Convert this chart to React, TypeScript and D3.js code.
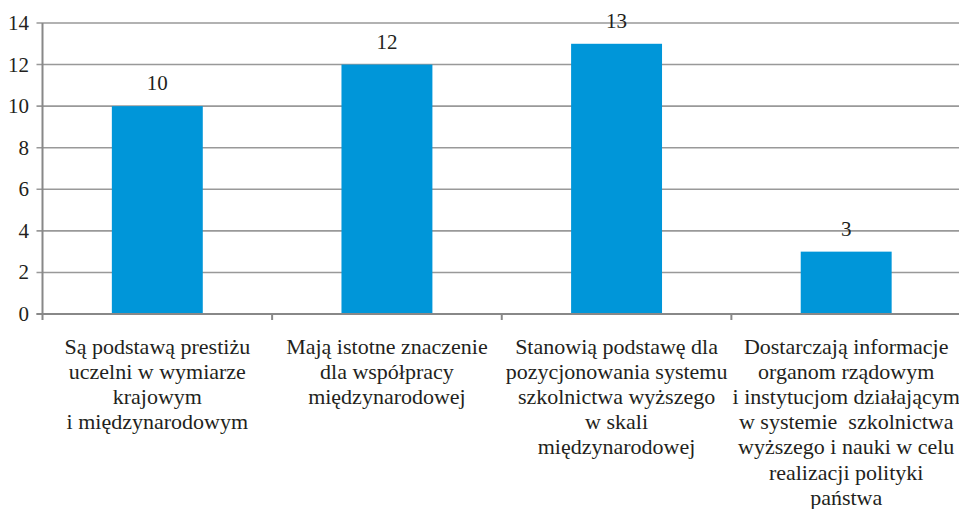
import * as d3 from 'd3';

const categories = [
  ['Są podstawą prestiżu', 'uczelni w wymiarze', 'krajowym', 'i międzynarodowym'],
  ['Mają istotne znaczenie', 'dla współpracy', 'międzynarodowej'],
  ['Stanowią podstawę dla', 'pozycjonowania systemu', 'szkolnictwa wyższego', 'w skali', 'międzynarodowej'],
  ['Dostarczają informacje', 'organom rządowym', 'i instytucjom działającym', 'w systemie  szkolnictwa', 'wyższego i nauki w celu', 'realizacji polityki', 'państwa'],
];
const values = [10, 12, 13, 3];
const yTicks = [0, 2, 4, 6, 8, 10, 12, 14];

const W = 959;
const H = 509;
const FONT = 'Liberation Serif';
const TEXT = '#231f20';
const GRID = '#999';
const AXIS = '#888';

const margin = { top: 23, right: -2, bottom: 195, left: 42.5 };
const keys = categories.map((_, i) => String(i));
const x = d3.scaleBand().domain(keys).range([margin.left, W - margin.right]).padding(0);
const y = d3.scaleLinear().domain([0, 14]).range([H - margin.bottom, margin.top]);
const barW = x.step() * 0.396;

const App = () => (
  <svg
    width={W}
    height={H}
    style={{ position: 'absolute', left: 0, top: 0, background: '#fff' }}
  >
    {/* grid lines and y ticks */}
    {yTicks.map(t => (
      <line key={'g' + t} x1={margin.left - 6} x2={W} y1={y(t)} y2={y(t)} stroke={GRID} strokeWidth={1.6} />
    ))}
    {yTicks.map(t => (
      <text
        key={'yt' + t}
        x={29}
        y={y(t) + 7}
        textAnchor="end"
        style={{ fontFamily: FONT, fontSize: 21 }}
        fill={TEXT}
      >
        {t}
      </text>
    ))}

    {/* bars */}
    {values.map((v, i) => (
      <rect
        key={'b' + i}
        x={x(keys[i])! + (x.step() - barW) / 2}
        y={y(v)}
        width={barW}
        height={y(0) - y(v)}
        fill="#0096d9"
      />
    ))}

    {/* value labels */}
    {values.map((v, i) => (
      <text
        key={'v' + i}
        x={x(keys[i])! + x.step() / 2}
        y={y(v) - 16}
        textAnchor="middle"
        style={{ fontFamily: FONT, fontSize: 21 }}
        fill={TEXT}
      >
        {v}
      </text>
    ))}

    {/* axes */}
    <line x1={margin.left} x2={margin.left} y1={y(14)} y2={y(0) + 6} stroke={AXIS} strokeWidth={2} />
    <line x1={margin.left - 6} x2={W} y1={y(0)} y2={y(0)} stroke={AXIS} strokeWidth={2} />
    {keys.slice(1).map(k => (
      <line key={'xt' + k} x1={x(k)!} x2={x(k)!} y1={y(0)} y2={y(0) + 6} stroke={AXIS} strokeWidth={2} />
    ))}

    {/* category labels */}
    {categories.map((lines, i) => (
      <text
        key={'c' + i}
        textAnchor="middle"
        style={{ fontFamily: FONT, fontSize: 22, whiteSpace: 'pre' }}
        fill={TEXT}
      >
        {lines.map((ln, j) => (
          <tspan key={j} x={x(keys[i])! + x.step() / 2} y={354 + j * 25.1}>
            {ln}
          </tspan>
        ))}
      </text>
    ))}
  </svg>
);

export default App;
